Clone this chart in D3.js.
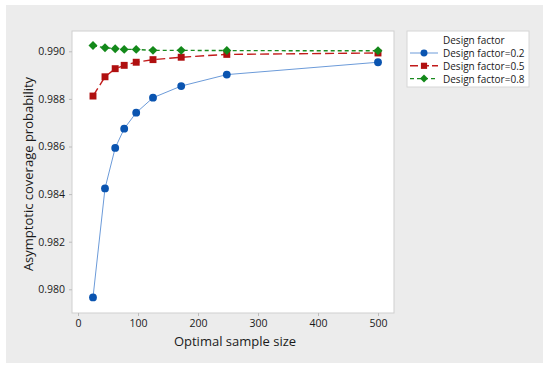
<!DOCTYPE html>
<html>
<head>
<meta charset="utf-8">
<script src="https://cdn.jsdelivr.net/npm/d3@7/dist/d3.min.js"></script>
<style>
  body { margin: 0; background: #fff; }
  text { font-family: "Open Sans", "Noto Sans", sans-serif; fill: #1a1a1a; }
</style>
</head>
<body>
<div id="chart"></div>
<script>
// sample sizes and coverage per design factor
const sampleSize = [25, 45, 62, 77, 97, 125, 172, 248, 500];
const df02 = [0.97966, 0.98424, 0.98594, 0.98675, 0.98742, 0.98805, 0.98854, 0.98902, 0.98954];
const df05 = [0.98812, 0.98893, 0.98927, 0.98941, 0.98954, 0.98965, 0.98975, 0.98987, 0.98993];
const df08 = [0.99024, 0.99015, 0.99011, 0.99008, 0.99008, 0.99004, 0.99004, 0.99003, 0.99002];
const xTicks = [0, 100, 200, 300, 400, 500];
const yTicks = [0.980, 0.982, 0.984, 0.986, 0.988, 0.990];
const seriesNames = ["Design factor=0.2", "Design factor=0.5", "Design factor=0.8"];

const width = 550, height = 369;
const svg = d3.select("#chart").append("svg")
  .attr("width", width)
  .attr("height", height);

// gray panel
svg.append("rect")
  .attr("x", 6).attr("y", 5)
  .attr("width", 537).attr("height", 358)
  .attr("fill", "#ececec");

const plot = { left: 72, top: 31, right: 394, bottom: 313 };

svg.append("rect")
  .attr("x", plot.left).attr("y", plot.top)
  .attr("width", plot.right - plot.left).attr("height", plot.bottom - plot.top)
  .attr("fill", "#fff")
  .attr("stroke", "#cfcfcf");

const x = d3.scaleLinear().domain([0, 500]).range([78, 378]);
const y = d3.scaleLinear().domain([0.980, 0.990]).range([289.3, 51.3]);

// axes
const xAxis = svg.append("g")
  .attr("transform", `translate(0,${plot.bottom})`)
  .call(d3.axisBottom(x).tickValues(xTicks).tickSize(3).tickPadding(4).tickFormat(d3.format("d")));
const yAxis = svg.append("g")
  .attr("transform", `translate(${plot.left},0)`)
  .call(d3.axisLeft(y).tickValues(yTicks).tickSize(3).tickPadding(4).tickFormat(d3.format(".3f")));
[xAxis, yAxis].forEach(a => {
  a.select(".domain").remove();
  a.selectAll(".tick line").attr("stroke", "#bdbdbd");
  a.selectAll(".tick text").attr("font-size", 10.5).attr("fill", "#1a1a1a")
    .attr("font-family", "'Open Sans', 'Noto Sans', sans-serif");
});

svg.append("text")
  .attr("x", (plot.left + plot.right) / 2 + 2)
  .attr("y", 346)
  .attr("text-anchor", "middle")
  .attr("font-size", 13)
  .text("Optimal sample size");

svg.append("text")
  .attr("transform", `translate(33,${(plot.top + plot.bottom) / 2 + 2}) rotate(-90)`)
  .attr("text-anchor", "middle")
  .attr("font-size", 13)
  .text("Asymptotic coverage probability");

const series = [
  { name: seriesNames[0], values: df02, color: "#0a54b0", line: "#6c9bd9", width: 1, dash: null, legendDash: null, symbol: d3.symbolCircle, size: 48, rot: 0 },
  { name: seriesNames[1], values: df05, color: "#b01010", line: "#c21a1a", width: 1.4, dash: "9,4", legendDash: "8,3", symbol: d3.symbolSquare, size: 48, rot: 0 },
  { name: seriesNames[2], values: df08, color: "#13891a", line: "#1a8a1f", width: 1.4, dash: "4,3", legendDash: "4,3", symbol: d3.symbolSquare, size: 40, rot: 45 }
];

const line = d3.line()
  .x(d => x(d[0]))
  .y(d => y(d[1]));

series.forEach(s => {
  const pts = sampleSize.map((n, i) => [n, s.values[i]]);
  svg.append("path")
    .datum(pts)
    .attr("fill", "none")
    .attr("stroke", s.line)
    .attr("stroke-width", s.width)
    .attr("stroke-dasharray", s.dash)
    .attr("d", line);
  svg.selectAll(null)
    .data(pts)
    .enter().append("path")
    .attr("transform", d => `translate(${x(d[0])},${y(d[1])}) rotate(${s.rot})`)
    .attr("d", d3.symbol().type(s.symbol).size(s.size))
    .attr("fill", s.color);
});

// legend
const lg = svg.append("g");
lg.append("rect")
  .attr("x", 407).attr("y", 31)
  .attr("width", 122).attr("height", 56)
  .attr("fill", "#fff")
  .attr("stroke", "#d6d6d6");
lg.append("text")
  .attr("x", 443).attr("y", 44)
  .attr("font-size", 10)
  .text("Design factor");
series.forEach((s, i) => {
  const yy = 53 + i * 12.8;
  lg.append("line")
    .attr("x1", 410).attr("x2", 438)
    .attr("y1", yy).attr("y2", yy)
    .attr("stroke", s.line)
    .attr("stroke-width", s.width)
    .attr("stroke-dasharray", s.legendDash);
  lg.append("path")
    .attr("transform", `translate(424,${yy}) rotate(${s.rot})`)
    .attr("d", d3.symbol().type(s.symbol).size(s.size * 0.8))
    .attr("fill", s.color);
  lg.append("text")
    .attr("x", 443).attr("y", yy + 4)
    .attr("font-size", 10)
    .text(s.name);
});
</script>
</body>
</html>
